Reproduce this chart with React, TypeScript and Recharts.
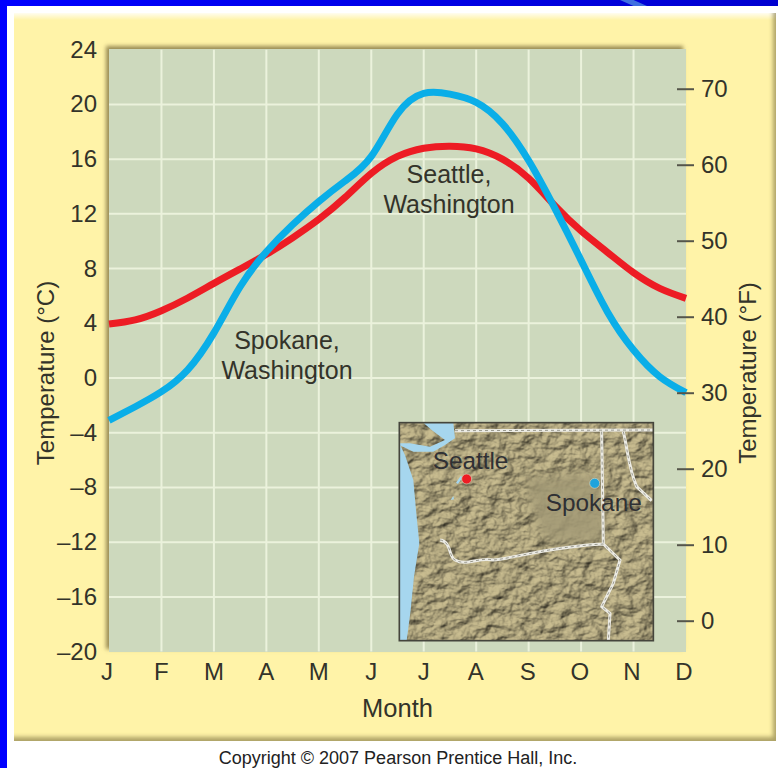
import React from 'react';
import { LineChart, Line, XAxis, YAxis, CartesianGrid, Label } from 'recharts';

const MONTHS = ['J', 'F', 'M', 'A', 'M', 'J', 'J', 'A', 'S', 'O', 'N', 'D'];
const MONTH_POS = [0, 0.5, 1, 1.5, 2, 2.5, 3, 3.5, 4, 4.5, 5, 5.5, 6, 6.5, 7, 7.5, 8, 8.5, 9, 9.5, 10, 10.5, 11];
const SEATTLE = [3.95, 4.25, 4.92, 5.85, 6.92, 7.97, 9.04, 10.25, 11.6, 13.2, 14.96, 16.2, 16.8, 16.95, 16.75, 16.0, 14.6, 12.6, 10.75, 9.2, 7.7, 6.55, 5.82];
const SPOKANE = [-3.1, -2.1, -1.0, 0.6, 3.3, 6.67, 9.23, 11.2, 12.9, 14.4, 16.2, 19.3, 20.8, 20.75, 20.15, 18.6, 15.9, 12.4, 8.6, 4.85, 2.05, 0.1, -1.07];
const C_TICKS = [24, 20, 16, 12, 8, 4, 0, -4, -8, -12, -16, -20];
const F_TICKS = [70, 60, 50, 40, 30, 20, 10, 0];
const X_TICKS = MONTHS.map((_, i) => i);
const C_GRID = [20, 16, 12, 8, 4, 0, -4, -8, -12, -16];
const X_GRID = [1, 2, 3, 4, 5, 6, 7, 8, 9, 10];

const rows = MONTH_POS.map((m, i) => ({ m, seattle: SEATTLE[i], spokane: SPOKANE[i], seattleF: SEATTLE[i] * 1.8 + 32 }));

const FONT = '"Liberation Sans", Arial, sans-serif';
const INK = '#33332a';

const LeftTick = (p: any) => (
  <text x={97} y={p.y + 8} textAnchor="end" fontFamily={FONT} fontSize={24} fill={INK}>
    {String(p.payload.value).replace('-', '\u2013')}
  </text>
);
const RightTick = (p: any) => (
  <g>
    <line x1={p.x - 17} x2={p.x} y1={p.y} y2={p.y} stroke="#55554a" strokeWidth={2} />
    <text x={p.x + 7} y={p.y + 8} fontFamily={FONT} fontSize={24} fill={INK}>{p.payload.value}</text>
  </g>
);
const BottomTick = (p: any) => {
  const i = p.payload.value;
  const shift = i === 0 ? -2 : i <= 6 ? 0 : -(i - 6) * 0.4;
  return (
    <text x={p.x + shift} y={680} textAnchor="middle" fontFamily={FONT} fontSize={24} fill={INK}>
      {MONTHS[i]}
    </text>
  );
};

const titleStyle = { fontFamily: FONT, fontSize: 24, fill: INK };

const VLabel = ({ text, cx }: { text: string; cx: number }) => (
  <text x={cx} y={373} transform={`rotate(-90 ${cx} 373)`} textAnchor="middle" dominantBaseline="central" style={titleStyle}>{text}</text>
);

const BORDERS = 'M195,62 L790,60 M635,65 L640,400 M150,390 C185,395 175,440 195,450 C230,470 265,440 310,450 C370,445 480,410 640,402 L690,450 L670,520 L635,590 L660,610 L655,692 M700,65 C715,130 715,170 740,230 L785,272';

function MapInset() {
  return (
    <svg width={280} height={240} viewBox="0 0 840 720" style={{ position: 'absolute', left: 390, top: 410 }}>
      <defs>
        <filter id="hill" x="0" y="0" width="100%" height="100%" colorInterpolationFilters="sRGB">
          <feTurbulence type="fractalNoise" baseFrequency="0.022 0.03" numOctaves={4} seed={11} result="n" />
          <feDiffuseLighting in="n" surfaceScale={11} diffuseConstant={1.12} lightingColor="#b4a981">
            <feDistantLight azimuth={225} elevation={58} />
          </feDiffuseLighting>
        </filter>
        <filter id="soft" x="-20%" y="-20%" width="140%" height="140%"><feGaussianBlur stdDeviation={16} /></filter>
        <clipPath id="mapClip"><rect x={28} y={38} width={762} height={654} /></clipPath>
      </defs>
      <g clipPath="url(#mapClip)">
        <rect x={28} y={38} width={762} height={654} fill="#a0966f" />
        <rect x={28} y={38} width={762} height={654} filter="url(#hill)" />
        <path d="M400,200 L630,190 L650,390 L480,400 L440,350 Z" fill="#a39a76" opacity={0.85} filter="url(#soft)" />
        <path d="M28,105 L70,125 L130,125 L165,105 L195,85 L190,38 L100,38 L125,60 L165,90 L120,110 L60,100 L28,100 Z" fill="#a6d6ee" />
        <path d="M28,100 L45,135 L70,210 L78,300 L88,400 L72,500 L62,600 L50,692 L28,692 Z" fill="#a6d6ee" />
        <path d="M198,218 L212,198 L218,202 L204,222 Z M182,270 L190,258 L192,268 Z" fill="#a6d6ee" />
        <g fill="none" strokeLinejoin="round">
          <path d={BORDERS} stroke="#ecebe4" strokeWidth={9} />
          <path d={BORDERS} stroke="#6f6f62" strokeWidth={2} strokeDasharray="9 9" />
        </g>
      </g>
      <rect x={28} y={38} width={762} height={654} fill="none" stroke="#45453c" strokeWidth={5} />
      <circle cx={230} cy={207} r={15} fill="#ed1c24" stroke="#d8d4b8" strokeWidth={2} />
      <circle cx={614} cy={220} r={15} fill="#1fa3dc" stroke="#d8d4b8" strokeWidth={2} />
      <text x={128} y={178} fontFamily={FONT} fontSize={73} fill="#2f3034">Seattle</text>
      <text x={467} y={302} fontFamily={FONT} fontSize={73} fill="#2f3034">Spokane</text>
    </svg>
  );
}

function Note({ lines, cx, y }: { lines: string[]; cx: number; y: number }) {
  return (
    <>
      {lines.map((t, i) => (
        <text key={t} x={cx} y={y + i * 30} textAnchor="middle" fontFamily={FONT} fontSize={25} fill={INK}>{t}</text>
      ))}
    </>
  );
}

export default function App() {
  return (
    <div style={{ position: 'absolute', left: 0, top: 0, width: 778, height: 768, background: '#fff', overflow: 'hidden' }}>
      <div style={{ position: 'absolute', left: 0, top: 0, width: 778, height: 6, background: 'linear-gradient(90deg,#0000ff,#0000d0)' }} />
      <div style={{ position: 'absolute', left: 620, top: 0, width: 27, height: 6, background: '#3f6fe0', clipPath: 'polygon(0 0,50% 0,100% 100%,50% 100%)' }} />
      <div style={{ position: 'absolute', left: 0, top: 0, width: 7, height: 768, background: '#0000ff' }} />
      <div style={{ position: 'absolute', left: 14, top: 13, width: 762, height: 728, background: 'linear-gradient(180deg,#fffdf0 0,#fff3a8 7px)', boxShadow: 'inset -4px -5px 4px -1px rgba(120,110,60,.6)' }} />
      <div style={{ position: 'absolute', left: 109, top: 49, width: 577, height: 603, boxShadow: '-3px -3px 4px rgba(110,95,50,.7)', background: '#cdd9bd' }} />
      <LineChart width={778} height={768} data={rows} margin={{ top: 49.7, right: 0, bottom: 56.4, left: 49 }} style={{ position: 'absolute', left: 0, top: 0 }}>
        <CartesianGrid stroke="#ebf2dc" strokeWidth={2} fill="#cdd9bd" verticalValues={X_GRID} horizontalValues={C_GRID} />
        <XAxis dataKey="m" type="number" domain={[0, 11]} ticks={X_TICKS} axisLine={false} tickLine={false} height={60} tick={BottomTick} interval={0}>
          <Label value="Month" position="insideBottom" offset={-5} style={{ ...titleStyle, fontSize: 25.5 }} />
        </XAxis>
        <YAxis domain={[-20, 24]} ticks={C_TICKS} axisLine={false} tickLine={false} width={60} tick={LeftTick} interval={0} />
        <YAxis yAxisId="f" orientation="right" domain={[-4, 75.2]} ticks={F_TICKS} axisLine={false} tickLine={false} width={92} tick={RightTick} interval={0} />
        <Line yAxisId="f" dataKey="seattleF" type="natural" stroke="none" dot={false} activeDot={false} legendType="none" isAnimationActive={false} />
        <Line dataKey="seattle" type="natural" stroke="#ed1c24" strokeWidth={7} dot={false} activeDot={false} isAnimationActive={false} />
        <Line dataKey="spokane" type="natural" stroke="#0aaee8" strokeWidth={7} dot={false} activeDot={false} isAnimationActive={false} />
        <VLabel text="Temperature (°C)" cx={45} />
        <VLabel text="Temperature (°F)" cx={747} />
        <Note lines={['Spokane,', 'Washington']} cx={287} y={349} />
        <Note lines={['Seattle,', 'Washington']} cx={449} y={183} />
        <text x={398} y={764} textAnchor="middle" fontFamily={FONT} fontSize={18} fill="#222">Copyright © 2007 Pearson Prentice Hall, Inc.</text>
      </LineChart>
      <MapInset />
    </div>
  );
}
